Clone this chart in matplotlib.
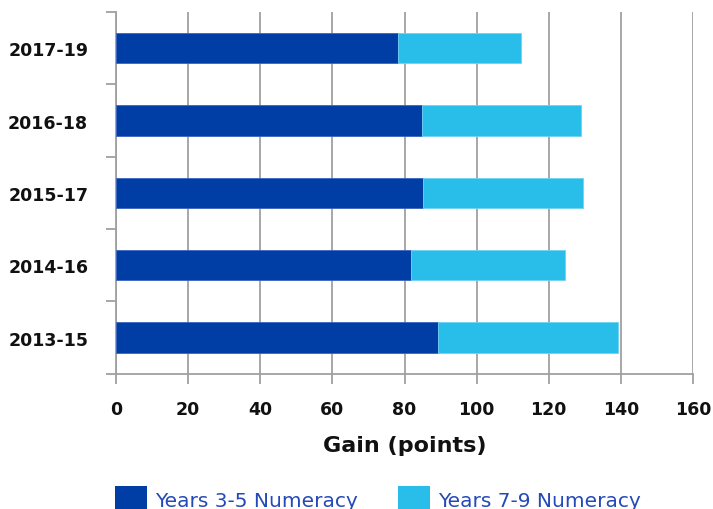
import matplotlib
matplotlib.use("Agg")
import matplotlib.pyplot as plt
from matplotlib.patches import Patch
import numpy as np

periods = ["2013-15", "2014-16", "2015-17", "2016-18", "2017-19"]
years_3_5 = [89.3, 81.9, 85.2, 84.9, 78.2]
years_7_9 = [50.0, 42.5, 44.3, 44.0, 34.0]
series_names = ["Years 3-5 Numeracy", "Years 7-9 Numeracy"]
x_ticks = [0, 20, 40, 60, 80, 100, 120, 140, 160]

dark = "#003DA5"
light = "#29BDEA"
grid_c = "#a0a0a0"

fig = plt.figure(figsize=(7.13, 5.10), dpi=100)
ax = fig.add_axes([116/713, 1-374.7/510, (693-116)/713, (374.7-13)/510])

y = np.arange(len(periods))
h = 0.42
ax.barh(y, years_3_5, height=h, color=dark, edgecolor="#3a66c0", linewidth=0.6, zorder=3)
ax.barh(y, years_7_9, left=years_3_5, height=h, color=light, edgecolor="#6fd3f2", linewidth=0.6, zorder=3)

ax.set_xlim(0, 160)
ax.set_ylim(-0.5, len(periods) - 0.5)
ax.set_xticks(x_ticks)
ax.set_xticklabels([str(t) for t in x_ticks], fontsize=12.5, fontweight="bold", color="#111111")
ax.set_yticks(y)
ax.set_yticklabels(periods, fontsize=12.5, fontweight="bold", color="#111111")
ax.set_yticks(np.arange(-0.5, len(periods), 1.0), minor=True)
ax.tick_params(axis="y", which="major", length=0, pad=20)
ax.tick_params(axis="y", which="minor", length=7, width=1.3, color=grid_c)
ax.tick_params(axis="x", which="major", length=7, width=1.3, color=grid_c, pad=12)

ax.grid(axis="x", color=grid_c, linewidth=1.3, zorder=0)
for s in ["top", "right"]:
    ax.spines[s].set_visible(False)
for s in ["left", "bottom"]:
    ax.spines[s].set_color(grid_c)
    ax.spines[s].set_linewidth(1.3)

ax.set_xlabel("Gain (points)", fontsize=16, fontweight="bold", color="#111111", labelpad=12)

handles = [Patch(facecolor=dark, edgecolor="none"), Patch(facecolor=light, edgecolor="none")]
leg = fig.legend(handles, series_names, loc="center", bbox_to_anchor=(378/713, 1-500/510),
                 ncol=2, frameon=False, fontsize=14.5, handlelength=1.6, handleheight=1.6,
                 handletextpad=0.4, columnspacing=2.0, borderpad=0, borderaxespad=0)
for t in leg.get_texts():
    t.set_color("#2449b8")

fig.savefig("out.png", dpi=100)
